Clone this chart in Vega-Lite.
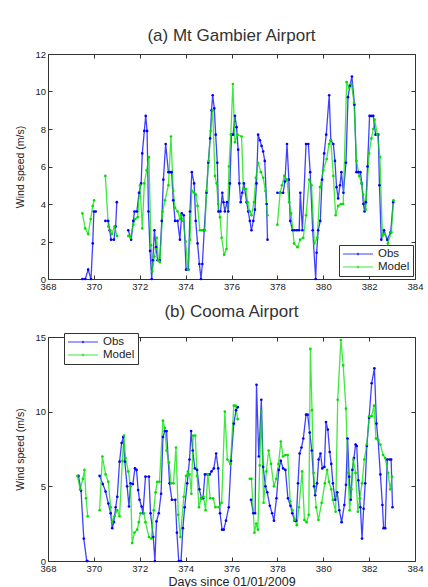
{
"$schema":"https://vega.github.io/schema/vega-lite/v6.json",
"background":"white",
"padding":{"left":15,"top":26,"right":3,"bottom":2},
"spacing":10,
"config":{
 "font":"Liberation Sans",
 "view":{"stroke":"#333","strokeWidth":1},
 "axis":{"grid":false,"domain":false,"tickColor":"#333","tickSize":-4,"labelColor":"#222","labelFontSize":9.5,"labelFlush":false,"labelPadding":6.5,"titleFontWeight":"normal","titleColor":"#222"},
 "title":{"fontSize":17,"fontWeight":"normal","color":"#333","anchor":"middle"},
 "legend":{"title":null,"orient":"none","symbolType":"M-3,0H3M-0.15,0A0.15,0.15 0 1 1 0.15,0A0.15,0.15 0 1 1 -0.15,0","symbolSize":100,"symbolStrokeWidth":1.2,"symbolOffset":10,"labelOffset":14,"labelFontSize":11.5,"labelColor":"#222","strokeColor":"#333","fillColor":"white","padding":3,"rowPadding":1}
},
"datasets":{
"a":[
{"d":369.5,"v":0,"s":"Obs"},{"d":369.625,"v":0,"s":"Obs"},{"d":369.75,"v":0.5,"s":"Obs"},{"d":369.875,"v":0,"s":"Obs"},{"d":369.95,"v":1.9,"s":"Obs"},{"d":370.0,"v":3.6,"s":"Obs"},{"d":370.08,"v":3.6,"s":"Obs"},{"d":370.25,"v":null,"s":"Obs"},
{"d":370.5,"v":3.1,"s":"Obs"},{"d":370.625,"v":3.1,"s":"Obs"},{"d":370.69,"v":2.6,"s":"Obs"},{"d":370.75,"v":2.1,"s":"Obs"},{"d":370.875,"v":2.1,"s":"Obs"},{"d":370.95,"v":2.8,"s":"Obs"},{"d":371.0,"v":4.1,"s":"Obs"},{"d":371.25,"v":null,"s":"Obs"},
{"d":371.5,"v":2.6,"s":"Obs"},{"d":371.625,"v":2.1,"s":"Obs"},{"d":371.72,"v":3.1,"s":"Obs"},{"d":371.77,"v":3.6,"s":"Obs"},{"d":371.875,"v":3.6,"s":"Obs"},{"d":371.97,"v":4.6,"s":"Obs"},{"d":372.06,"v":5.1,"s":"Obs"},{"d":372.11,"v":6.7,"s":"Obs"},{"d":372.2,"v":7.9,"s":"Obs"},{"d":372.26,"v":8.7,"s":"Obs"},{"d":372.32,"v":7.9,"s":"Obs"},{"d":372.38,"v":3.6,"s":"Obs"},{"d":372.45,"v":1.5,"s":"Obs"},{"d":372.52,"v":0,"s":"Obs"},{"d":372.57,"v":1.0,"s":"Obs"},{"d":372.64,"v":2.6,"s":"Obs"},{"d":372.71,"v":1.7,"s":"Obs"},{"d":372.78,"v":1.0,"s":"Obs"},{"d":372.87,"v":1.0,"s":"Obs"},{"d":372.96,"v":3.1,"s":"Obs"},{"d":373.03,"v":5.3,"s":"Obs"},{"d":373.13,"v":7.2,"s":"Obs"},{"d":373.25,"v":5.7,"s":"Obs"},{"d":373.32,"v":5.7,"s":"Obs"},{"d":373.39,"v":5.7,"s":"Obs"},{"d":373.46,"v":4.2,"s":"Obs"},{"d":373.54,"v":3.1,"s":"Obs"},{"d":373.65,"v":3.1,"s":"Obs"},{"d":373.75,"v":2.1,"s":"Obs"},{"d":373.83,"v":3.5,"s":"Obs"},{"d":373.92,"v":3.4,"s":"Obs"},{"d":374.02,"v":0.5,"s":"Obs"},{"d":374.12,"v":0.5,"s":"Obs"},{"d":374.19,"v":3.6,"s":"Obs"},{"d":374.27,"v":5.7,"s":"Obs"},{"d":374.37,"v":5.1,"s":"Obs"},{"d":374.44,"v":3.1,"s":"Obs"},{"d":374.52,"v":1.9,"s":"Obs"},{"d":374.6,"v":0.8,"s":"Obs"},{"d":374.67,"v":0,"s":"Obs"},{"d":374.73,"v":0.8,"s":"Obs"},{"d":374.81,"v":2.6,"s":"Obs"},{"d":374.91,"v":4.6,"s":"Obs"},{"d":374.99,"v":6.2,"s":"Obs"},{"d":375.07,"v":7.5,"s":"Obs"},{"d":375.13,"v":9.0,"s":"Obs"},{"d":375.18,"v":9.8,"s":"Obs"},{"d":375.25,"v":9.1,"s":"Obs"},{"d":375.31,"v":7.7,"s":"Obs"},{"d":375.38,"v":6.2,"s":"Obs"},{"d":375.43,"v":3.6,"s":"Obs"},{"d":375.52,"v":3.6,"s":"Obs"},{"d":375.6,"v":4.6,"s":"Obs"},{"d":375.65,"v":4.1,"s":"Obs"},{"d":375.71,"v":3.6,"s":"Obs"},{"d":375.8,"v":4.1,"s":"Obs"},{"d":375.86,"v":3.6,"s":"Obs"},{"d":375.93,"v":5.1,"s":"Obs"},{"d":376.0,"v":7.7,"s":"Obs"},{"d":376.07,"v":7.7,"s":"Obs"},{"d":376.15,"v":8.7,"s":"Obs"},{"d":376.22,"v":8.1,"s":"Obs"},{"d":376.29,"v":6.9,"s":"Obs"},{"d":376.34,"v":5.1,"s":"Obs"},{"d":376.4,"v":4.1,"s":"Obs"},{"d":376.47,"v":4.6,"s":"Obs"},{"d":376.54,"v":5.1,"s":"Obs"},{"d":376.66,"v":4.1,"s":"Obs"},{"d":376.73,"v":3.6,"s":"Obs"},{"d":376.8,"v":3.1,"s":"Obs"},{"d":376.87,"v":2.6,"s":"Obs"},{"d":376.95,"v":3.1,"s":"Obs"},{"d":377.02,"v":3.7,"s":"Obs"},{"d":377.09,"v":5.1,"s":"Obs"},{"d":377.16,"v":7.7,"s":"Obs"},{"d":377.24,"v":7.4,"s":"Obs"},{"d":377.31,"v":7.1,"s":"Obs"},{"d":377.38,"v":6.8,"s":"Obs"},{"d":377.45,"v":6.3,"s":"Obs"},{"d":377.53,"v":4.0,"s":"Obs"},{"d":377.57,"v":2.1,"s":"Obs"},{"d":377.75,"v":null,"s":"Obs"},
{"d":378.0,"v":4.6,"s":"Obs"},{"d":378.12,"v":4.6,"s":"Obs"},{"d":378.25,"v":4.6,"s":"Obs"},{"d":378.33,"v":5.2,"s":"Obs"},{"d":378.42,"v":7.2,"s":"Obs"},{"d":378.5,"v":5.3,"s":"Obs"},{"d":378.56,"v":3.1,"s":"Obs"},{"d":378.66,"v":2.6,"s":"Obs"},{"d":378.75,"v":2.6,"s":"Obs"},{"d":378.85,"v":2.6,"s":"Obs"},{"d":378.95,"v":2.6,"s":"Obs"},{"d":379.0,"v":4.6,"s":"Obs"},{"d":379.09,"v":2.6,"s":"Obs"},{"d":379.25,"v":7.2,"s":"Obs"},{"d":379.35,"v":7.2,"s":"Obs"},{"d":379.43,"v":5.7,"s":"Obs"},{"d":379.54,"v":2.6,"s":"Obs"},{"d":379.67,"v":0,"s":"Obs"},{"d":379.71,"v":1.4,"s":"Obs"},{"d":379.78,"v":2.6,"s":"Obs"},{"d":379.87,"v":3.1,"s":"Obs"},{"d":379.95,"v":5.3,"s":"Obs"},{"d":380.04,"v":6.7,"s":"Obs"},{"d":380.13,"v":7.7,"s":"Obs"},{"d":380.26,"v":9.8,"s":"Obs"},{"d":380.33,"v":7.4,"s":"Obs"},{"d":380.44,"v":7.2,"s":"Obs"},{"d":380.51,"v":6.3,"s":"Obs"},{"d":380.58,"v":4.9,"s":"Obs"},{"d":380.65,"v":4.3,"s":"Obs"},{"d":380.73,"v":5.0,"s":"Obs"},{"d":380.79,"v":5.7,"s":"Obs"},{"d":380.88,"v":4.6,"s":"Obs"},{"d":380.99,"v":6.2,"s":"Obs"},{"d":381.08,"v":9.7,"s":"Obs"},{"d":381.16,"v":10.3,"s":"Obs"},{"d":381.25,"v":10.8,"s":"Obs"},{"d":381.36,"v":9.3,"s":"Obs"},{"d":381.45,"v":5.7,"s":"Obs"},{"d":381.53,"v":5.7,"s":"Obs"},{"d":381.62,"v":5.7,"s":"Obs"},{"d":381.68,"v":5.1,"s":"Obs"},{"d":381.75,"v":4.0,"s":"Obs"},{"d":381.8,"v":3.6,"s":"Obs"},{"d":381.86,"v":4.1,"s":"Obs"},{"d":381.93,"v":6.0,"s":"Obs"},{"d":382.02,"v":8.7,"s":"Obs"},{"d":382.1,"v":8.7,"s":"Obs"},{"d":382.18,"v":8.7,"s":"Obs"},{"d":382.28,"v":7.7,"s":"Obs"},{"d":382.4,"v":7.7,"s":"Obs"},{"d":382.45,"v":5.0,"s":"Obs"},{"d":382.53,"v":2.1,"s":"Obs"},{"d":382.65,"v":2.6,"s":"Obs"},{"d":382.79,"v":2.1,"s":"Obs"},{"d":382.94,"v":2.5,"s":"Obs"},{"d":383.05,"v":4.1,"s":"Obs"},
{"d":369.5,"v":3.5,"s":"Model"},{"d":369.62,"v":2.7,"s":"Model"},{"d":369.75,"v":2.4,"s":"Model"},{"d":369.86,"v":3.2,"s":"Model"},{"d":369.95,"v":3.9,"s":"Model"},{"d":370.01,"v":4.2,"s":"Model"},{"d":370.25,"v":null,"s":"Model"},
{"d":370.5,"v":5.5,"s":"Model"},{"d":370.63,"v":2.8,"s":"Model"},{"d":370.72,"v":2.6,"s":"Model"},{"d":370.78,"v":2.4,"s":"Model"},{"d":370.9,"v":2.8,"s":"Model"},{"d":371.01,"v":2.3,"s":"Model"},{"d":371.25,"v":null,"s":"Model"},
{"d":371.5,"v":2.3,"s":"Model"},{"d":371.6,"v":2.2,"s":"Model"},{"d":371.72,"v":2.9,"s":"Model"},{"d":371.8,"v":3.2,"s":"Model"},{"d":371.91,"v":3.3,"s":"Model"},{"d":372.01,"v":5.0,"s":"Model"},{"d":372.11,"v":2.7,"s":"Model"},{"d":372.2,"v":5.1,"s":"Model"},{"d":372.3,"v":5.8,"s":"Model"},{"d":372.4,"v":6.5,"s":"Model"},{"d":372.49,"v":1.8,"s":"Model"},{"d":372.55,"v":0.4,"s":"Model"},{"d":372.64,"v":1.2,"s":"Model"},{"d":372.7,"v":1.6,"s":"Model"},{"d":372.74,"v":2.2,"s":"Model"},{"d":372.81,"v":1.0,"s":"Model"},{"d":372.88,"v":0.9,"s":"Model"},{"d":373.0,"v":3.6,"s":"Model"},{"d":373.1,"v":4.2,"s":"Model"},{"d":373.25,"v":5.0,"s":"Model"},{"d":373.36,"v":7.6,"s":"Model"},{"d":373.46,"v":4.7,"s":"Model"},{"d":373.54,"v":3.8,"s":"Model"},{"d":373.65,"v":3.6,"s":"Model"},{"d":373.75,"v":3.2,"s":"Model"},{"d":373.8,"v":3.4,"s":"Model"},{"d":373.9,"v":3.1,"s":"Model"},{"d":374.0,"v":2.0,"s":"Model"},{"d":374.1,"v":0.5,"s":"Model"},{"d":374.19,"v":2.1,"s":"Model"},{"d":374.27,"v":4.7,"s":"Model"},{"d":374.37,"v":4.6,"s":"Model"},{"d":374.45,"v":4.5,"s":"Model"},{"d":374.52,"v":3.9,"s":"Model"},{"d":374.62,"v":2.6,"s":"Model"},{"d":374.72,"v":2.6,"s":"Model"},{"d":374.84,"v":2.6,"s":"Model"},{"d":374.91,"v":4.7,"s":"Model"},{"d":375.0,"v":6.3,"s":"Model"},{"d":375.09,"v":7.9,"s":"Model"},{"d":375.18,"v":9.0,"s":"Model"},{"d":375.28,"v":5.5,"s":"Model"},{"d":375.35,"v":5.1,"s":"Model"},{"d":375.42,"v":4.0,"s":"Model"},{"d":375.5,"v":3.3,"s":"Model"},{"d":375.57,"v":2.2,"s":"Model"},{"d":375.68,"v":1.3,"s":"Model"},{"d":375.78,"v":1.6,"s":"Model"},{"d":375.89,"v":6.0,"s":"Model"},{"d":375.97,"v":7.7,"s":"Model"},{"d":376.06,"v":10.4,"s":"Model"},{"d":376.15,"v":7.3,"s":"Model"},{"d":376.26,"v":7.7,"s":"Model"},{"d":376.44,"v":7.6,"s":"Model"},{"d":376.52,"v":4.8,"s":"Model"},{"d":376.63,"v":4.8,"s":"Model"},{"d":376.7,"v":4.1,"s":"Model"},{"d":376.8,"v":3.6,"s":"Model"},{"d":376.87,"v":3.4,"s":"Model"},{"d":376.98,"v":4.1,"s":"Model"},{"d":377.06,"v":5.4,"s":"Model"},{"d":377.16,"v":6.2,"s":"Model"},{"d":377.28,"v":5.7,"s":"Model"},{"d":377.38,"v":5.4,"s":"Model"},{"d":377.48,"v":4.7,"s":"Model"},{"d":377.57,"v":3.4,"s":"Model"},{"d":377.75,"v":null,"s":"Model"},
{"d":378.0,"v":2.9,"s":"Model"},{"d":378.12,"v":4.6,"s":"Model"},{"d":378.2,"v":5.0,"s":"Model"},{"d":378.3,"v":5.5,"s":"Model"},{"d":378.42,"v":5.3,"s":"Model"},{"d":378.51,"v":4.1,"s":"Model"},{"d":378.6,"v":3.5,"s":"Model"},{"d":378.73,"v":1.9,"s":"Model"},{"d":378.88,"v":1.7,"s":"Model"},{"d":378.99,"v":2.1,"s":"Model"},{"d":379.13,"v":2.2,"s":"Model"},{"d":379.25,"v":3.4,"s":"Model"},{"d":379.39,"v":5.3,"s":"Model"},{"d":379.49,"v":5.0,"s":"Model"},{"d":379.61,"v":1.9,"s":"Model"},{"d":379.74,"v":2.2,"s":"Model"},{"d":379.86,"v":4.9,"s":"Model"},{"d":380.0,"v":5.8,"s":"Model"},{"d":380.15,"v":6.4,"s":"Model"},{"d":380.25,"v":7.2,"s":"Model"},{"d":380.33,"v":7.4,"s":"Model"},{"d":380.44,"v":5.5,"s":"Model"},{"d":380.54,"v":3.4,"s":"Model"},{"d":380.65,"v":3.9,"s":"Model"},{"d":380.77,"v":4.0,"s":"Model"},{"d":380.87,"v":4.0,"s":"Model"},{"d":381.02,"v":10.5,"s":"Model"},{"d":381.13,"v":10.2,"s":"Model"},{"d":381.23,"v":10.4,"s":"Model"},{"d":381.34,"v":9.4,"s":"Model"},{"d":381.45,"v":6.3,"s":"Model"},{"d":381.57,"v":5.5,"s":"Model"},{"d":381.67,"v":5.1,"s":"Model"},{"d":381.74,"v":4.5,"s":"Model"},{"d":381.85,"v":3.7,"s":"Model"},{"d":382.0,"v":6.7,"s":"Model"},{"d":382.1,"v":7.5,"s":"Model"},{"d":382.18,"v":8.0,"s":"Model"},{"d":382.24,"v":8.5,"s":"Model"},{"d":382.36,"v":7.7,"s":"Model"},{"d":382.47,"v":6.5,"s":"Model"},{"d":382.58,"v":2.3,"s":"Model"},{"d":382.69,"v":2.4,"s":"Model"},{"d":382.82,"v":1.9,"s":"Model"},{"d":382.97,"v":2.5,"s":"Model"},{"d":383.06,"v":4.2,"s":"Model"}
],
"b":[
{"d":369.33,"v":5.7,"s":"Obs"},{"d":369.44,"v":4.7,"s":"Obs"},{"d":369.56,"v":1.5,"s":"Obs"},{"d":369.69,"v":0,"s":"Obs"},{"d":369.72,"v":0,"s":"Obs"},{"d":369.9,"v":null,"s":"Obs"},
{"d":370.25,"v":5.7,"s":"Obs"},{"d":370.39,"v":5.15,"s":"Obs"},{"d":370.51,"v":4.65,"s":"Obs"},{"d":370.63,"v":3.85,"s":"Obs"},{"d":370.73,"v":3.2,"s":"Obs"},{"d":370.8,"v":2.2,"s":"Obs"},{"d":370.87,"v":2.6,"s":"Obs"},{"d":370.95,"v":3.6,"s":"Obs"},{"d":371.02,"v":4.3,"s":"Obs"},{"d":371.12,"v":6.65,"s":"Obs"},{"d":371.21,"v":7.9,"s":"Obs"},{"d":371.28,"v":8.3,"s":"Obs"},{"d":371.35,"v":6.65,"s":"Obs"},{"d":371.45,"v":5.0,"s":"Obs"},{"d":371.53,"v":3.65,"s":"Obs"},{"d":371.6,"v":5.2,"s":"Obs"},{"d":371.7,"v":5.15,"s":"Obs"},{"d":371.79,"v":6.2,"s":"Obs"},{"d":371.86,"v":6.1,"s":"Obs"},{"d":371.93,"v":4.75,"s":"Obs"},{"d":371.99,"v":4.1,"s":"Obs"},{"d":372.08,"v":3.65,"s":"Obs"},{"d":372.14,"v":3.2,"s":"Obs"},{"d":372.25,"v":5.65,"s":"Obs"},{"d":372.4,"v":5.65,"s":"Obs"},{"d":372.47,"v":3.2,"s":"Obs"},{"d":372.59,"v":1.6,"s":"Obs"},{"d":372.66,"v":0,"s":"Obs"},{"d":372.73,"v":2.65,"s":"Obs"},{"d":372.83,"v":3.2,"s":"Obs"},{"d":372.93,"v":4.5,"s":"Obs"},{"d":373.01,"v":8.3,"s":"Obs"},{"d":373.09,"v":8.7,"s":"Obs"},{"d":373.17,"v":8.7,"s":"Obs"},{"d":373.3,"v":5.2,"s":"Obs"},{"d":373.4,"v":4.1,"s":"Obs"},{"d":373.55,"v":4.1,"s":"Obs"},{"d":373.62,"v":1.9,"s":"Obs"},{"d":373.7,"v":0,"s":"Obs"},{"d":373.8,"v":0,"s":"Obs"},{"d":373.88,"v":2.2,"s":"Obs"},{"d":373.96,"v":3.6,"s":"Obs"},{"d":374.07,"v":5.2,"s":"Obs"},{"d":374.17,"v":6.8,"s":"Obs"},{"d":374.24,"v":8.7,"s":"Obs"},{"d":374.31,"v":7.4,"s":"Obs"},{"d":374.4,"v":6.2,"s":"Obs"},{"d":374.5,"v":6.1,"s":"Obs"},{"d":374.6,"v":4.8,"s":"Obs"},{"d":374.69,"v":4.2,"s":"Obs"},{"d":374.76,"v":4.2,"s":"Obs"},{"d":374.84,"v":5.8,"s":"Obs"},{"d":374.95,"v":5.8,"s":"Obs"},{"d":375.05,"v":5.8,"s":"Obs"},{"d":375.13,"v":6.0,"s":"Obs"},{"d":375.23,"v":6.2,"s":"Obs"},{"d":375.33,"v":7.2,"s":"Obs"},{"d":375.42,"v":6.2,"s":"Obs"},{"d":375.5,"v":3.2,"s":"Obs"},{"d":375.59,"v":2.1,"s":"Obs"},{"d":375.66,"v":2.1,"s":"Obs"},{"d":375.76,"v":2.7,"s":"Obs"},{"d":375.88,"v":3.6,"s":"Obs"},{"d":375.98,"v":6.7,"s":"Obs"},{"d":376.1,"v":9.2,"s":"Obs"},{"d":376.2,"v":10.1,"s":"Obs"},{"d":376.27,"v":10.3,"s":"Obs"},{"d":376.5,"v":null,"s":"Obs"},
{"d":376.85,"v":4.1,"s":"Obs"},{"d":376.95,"v":3.2,"s":"Obs"},{"d":377.03,"v":3.2,"s":"Obs"},{"d":377.09,"v":11.8,"s":"Obs"},{"d":377.19,"v":7.0,"s":"Obs"},{"d":377.3,"v":10.8,"s":"Obs"},{"d":377.38,"v":6.3,"s":"Obs"},{"d":377.48,"v":5.0,"s":"Obs"},{"d":377.56,"v":4.6,"s":"Obs"},{"d":377.67,"v":3.7,"s":"Obs"},{"d":377.77,"v":3.2,"s":"Obs"},{"d":377.85,"v":2.7,"s":"Obs"},{"d":377.96,"v":4.2,"s":"Obs"},{"d":378.06,"v":6.1,"s":"Obs"},{"d":378.15,"v":6.7,"s":"Obs"},{"d":378.25,"v":6.2,"s":"Obs"},{"d":378.35,"v":6.1,"s":"Obs"},{"d":378.46,"v":4.2,"s":"Obs"},{"d":378.57,"v":3.7,"s":"Obs"},{"d":378.65,"v":3.2,"s":"Obs"},{"d":378.75,"v":2.7,"s":"Obs"},{"d":378.82,"v":2.7,"s":"Obs"},{"d":378.9,"v":5.2,"s":"Obs"},{"d":378.97,"v":7.2,"s":"Obs"},{"d":379.05,"v":7.6,"s":"Obs"},{"d":379.13,"v":8.2,"s":"Obs"},{"d":379.25,"v":9.8,"s":"Obs"},{"d":379.32,"v":9.8,"s":"Obs"},{"d":379.41,"v":8.6,"s":"Obs"},{"d":379.5,"v":7.4,"s":"Obs"},{"d":379.6,"v":5.0,"s":"Obs"},{"d":379.65,"v":4.4,"s":"Obs"},{"d":379.73,"v":5.2,"s":"Obs"},{"d":379.8,"v":6.8,"s":"Obs"},{"d":379.88,"v":7.2,"s":"Obs"},{"d":379.96,"v":6.2,"s":"Obs"},{"d":380.05,"v":6.3,"s":"Obs"},{"d":380.12,"v":9.3,"s":"Obs"},{"d":380.2,"v":8.8,"s":"Obs"},{"d":380.28,"v":7.3,"s":"Obs"},{"d":380.35,"v":6.5,"s":"Obs"},{"d":380.42,"v":5.2,"s":"Obs"},{"d":380.52,"v":4.1,"s":"Obs"},{"d":380.61,"v":4.6,"s":"Obs"},{"d":380.7,"v":3.4,"s":"Obs"},{"d":380.8,"v":2.6,"s":"Obs"},{"d":380.92,"v":3.75,"s":"Obs"},{"d":380.99,"v":5.1,"s":"Obs"},{"d":381.06,"v":8.2,"s":"Obs"},{"d":381.13,"v":5.65,"s":"Obs"},{"d":381.2,"v":4.1,"s":"Obs"},{"d":381.27,"v":6.1,"s":"Obs"},{"d":381.34,"v":6.9,"s":"Obs"},{"d":381.41,"v":7.8,"s":"Obs"},{"d":381.46,"v":7.7,"s":"Obs"},{"d":381.53,"v":5.4,"s":"Obs"},{"d":381.62,"v":3.6,"s":"Obs"},{"d":381.69,"v":1.5,"s":"Obs"},{"d":381.76,"v":3.5,"s":"Obs"},{"d":381.83,"v":5.2,"s":"Obs"},{"d":381.9,"v":7.7,"s":"Obs"},{"d":382.0,"v":9.6,"s":"Obs"},{"d":382.11,"v":11.9,"s":"Obs"},{"d":382.23,"v":12.9,"s":"Obs"},{"d":382.32,"v":9.2,"s":"Obs"},{"d":382.39,"v":8.1,"s":"Obs"},{"d":382.49,"v":5.8,"s":"Obs"},{"d":382.58,"v":3.75,"s":"Obs"},{"d":382.63,"v":2.2,"s":"Obs"},{"d":382.7,"v":2.2,"s":"Obs"},{"d":382.79,"v":6.8,"s":"Obs"},{"d":382.89,"v":6.8,"s":"Obs"},{"d":382.96,"v":6.8,"s":"Obs"},{"d":383.02,"v":3.6,"s":"Obs"},
{"d":369.28,"v":5.7,"s":"Model"},{"d":369.4,"v":4.8,"s":"Model"},{"d":369.52,"v":5.5,"s":"Model"},{"d":369.59,"v":6.1,"s":"Model"},{"d":369.66,"v":4.2,"s":"Model"},{"d":369.73,"v":3.0,"s":"Model"},{"d":369.9,"v":null,"s":"Model"},
{"d":370.25,"v":3.4,"s":"Model"},{"d":370.37,"v":7.0,"s":"Model"},{"d":370.51,"v":5.8,"s":"Model"},{"d":370.63,"v":5.3,"s":"Model"},{"d":370.73,"v":3.6,"s":"Model"},{"d":370.8,"v":2.6,"s":"Model"},{"d":370.9,"v":3.0,"s":"Model"},{"d":371.02,"v":3.4,"s":"Model"},{"d":371.12,"v":3.0,"s":"Model"},{"d":371.24,"v":6.7,"s":"Model"},{"d":371.31,"v":8.4,"s":"Model"},{"d":371.38,"v":6.9,"s":"Model"},{"d":371.5,"v":6.0,"s":"Model"},{"d":371.6,"v":5.0,"s":"Model"},{"d":371.67,"v":1.2,"s":"Model"},{"d":371.77,"v":1.9,"s":"Model"},{"d":371.89,"v":2.1,"s":"Model"},{"d":371.96,"v":2.6,"s":"Model"},{"d":372.03,"v":3.2,"s":"Model"},{"d":372.18,"v":3.2,"s":"Model"},{"d":372.25,"v":2.6,"s":"Model"},{"d":372.4,"v":1.6,"s":"Model"},{"d":372.51,"v":1.5,"s":"Model"},{"d":372.61,"v":3.4,"s":"Model"},{"d":372.69,"v":4.6,"s":"Model"},{"d":372.76,"v":5.3,"s":"Model"},{"d":372.86,"v":5.3,"s":"Model"},{"d":373.01,"v":9.4,"s":"Model"},{"d":373.09,"v":8.9,"s":"Model"},{"d":373.17,"v":7.4,"s":"Model"},{"d":373.27,"v":6.6,"s":"Model"},{"d":373.37,"v":5.2,"s":"Model"},{"d":373.47,"v":5.2,"s":"Model"},{"d":373.58,"v":7.6,"s":"Model"},{"d":373.68,"v":3.1,"s":"Model"},{"d":373.77,"v":1.6,"s":"Model"},{"d":373.92,"v":4.3,"s":"Model"},{"d":374.02,"v":5.7,"s":"Model"},{"d":374.1,"v":6.0,"s":"Model"},{"d":374.17,"v":5.8,"s":"Model"},{"d":374.25,"v":4.5,"s":"Model"},{"d":374.33,"v":8.4,"s":"Model"},{"d":374.42,"v":8.4,"s":"Model"},{"d":374.5,"v":5.7,"s":"Model"},{"d":374.58,"v":3.6,"s":"Model"},{"d":374.68,"v":4.2,"s":"Model"},{"d":374.78,"v":4.3,"s":"Model"},{"d":374.87,"v":3.4,"s":"Model"},{"d":374.97,"v":5.8,"s":"Model"},{"d":375.07,"v":4.2,"s":"Model"},{"d":375.2,"v":4.2,"s":"Model"},{"d":375.3,"v":3.6,"s":"Model"},{"d":375.45,"v":3.6,"s":"Model"},{"d":375.57,"v":3.9,"s":"Model"},{"d":375.71,"v":10.0,"s":"Model"},{"d":375.82,"v":6.8,"s":"Model"},{"d":375.95,"v":6.5,"s":"Model"},{"d":376.1,"v":10.4,"s":"Model"},{"d":376.18,"v":10.4,"s":"Model"},{"d":376.27,"v":9.5,"s":"Model"},{"d":376.5,"v":null,"s":"Model"},
{"d":376.8,"v":5.5,"s":"Model"},{"d":376.87,"v":5.5,"s":"Model"},{"d":377.0,"v":1.9,"s":"Model"},{"d":377.08,"v":2.5,"s":"Model"},{"d":377.15,"v":2.1,"s":"Model"},{"d":377.23,"v":6.4,"s":"Model"},{"d":377.3,"v":10.0,"s":"Model"},{"d":377.4,"v":3.9,"s":"Model"},{"d":377.52,"v":6.0,"s":"Model"},{"d":377.62,"v":7.4,"s":"Model"},{"d":377.72,"v":6.5,"s":"Model"},{"d":377.85,"v":5.0,"s":"Model"},{"d":377.95,"v":5.5,"s":"Model"},{"d":378.05,"v":6.5,"s":"Model"},{"d":378.15,"v":8.0,"s":"Model"},{"d":378.25,"v":7.0,"s":"Model"},{"d":378.35,"v":7.1,"s":"Model"},{"d":378.45,"v":7.1,"s":"Model"},{"d":378.56,"v":4.0,"s":"Model"},{"d":378.66,"v":3.4,"s":"Model"},{"d":378.76,"v":2.75,"s":"Model"},{"d":378.85,"v":2.4,"s":"Model"},{"d":378.94,"v":3.6,"s":"Model"},{"d":379.08,"v":6.0,"s":"Model"},{"d":379.18,"v":2.75,"s":"Model"},{"d":379.27,"v":2.6,"s":"Model"},{"d":379.37,"v":3.1,"s":"Model"},{"d":379.44,"v":14.2,"s":"Model"},{"d":379.51,"v":10.1,"s":"Model"},{"d":379.58,"v":5.9,"s":"Model"},{"d":379.69,"v":3.6,"s":"Model"},{"d":379.79,"v":2.75,"s":"Model"},{"d":379.93,"v":3.9,"s":"Model"},{"d":380.07,"v":5.2,"s":"Model"},{"d":380.17,"v":6.1,"s":"Model"},{"d":380.25,"v":5.3,"s":"Model"},{"d":380.35,"v":4.8,"s":"Model"},{"d":380.42,"v":4.1,"s":"Model"},{"d":380.54,"v":3.3,"s":"Model"},{"d":380.63,"v":10.8,"s":"Model"},{"d":380.77,"v":14.8,"s":"Model"},{"d":380.87,"v":13.1,"s":"Model"},{"d":380.99,"v":10.2,"s":"Model"},{"d":381.08,"v":5.9,"s":"Model"},{"d":381.15,"v":3.4,"s":"Model"},{"d":381.23,"v":4.8,"s":"Model"},{"d":381.31,"v":6.8,"s":"Model"},{"d":381.41,"v":5.9,"s":"Model"},{"d":381.51,"v":3.3,"s":"Model"},{"d":381.59,"v":4.2,"s":"Model"},{"d":381.69,"v":5.2,"s":"Model"},{"d":381.79,"v":6.8,"s":"Model"},{"d":381.9,"v":7.8,"s":"Model"},{"d":382.0,"v":9.7,"s":"Model"},{"d":382.11,"v":9.7,"s":"Model"},{"d":382.21,"v":10.4,"s":"Model"},{"d":382.3,"v":8.2,"s":"Model"},{"d":382.39,"v":8.1,"s":"Model"},{"d":382.49,"v":7.8,"s":"Model"},{"d":382.61,"v":7.1,"s":"Model"},{"d":382.7,"v":6.9,"s":"Model"},{"d":382.82,"v":5.9,"s":"Model"},{"d":382.92,"v":4.8,"s":"Model"},{"d":383.0,"v":5.65,"s":"Model"}
]
},
"vconcat":[
{
 "title":{"text":"(a) Mt Gambier Airport","offset":4},
 "width":367,"height":225,
 "data":{"name":"a"},
 "layer":[
  {"mark":{"type":"line","strokeWidth":1.3,"opacity":0.75,"invalid":"break-paths-filter-domains"},
   "encoding":{
    "x":{"field":"d","type":"quantitative","scale":{"domain":[368,384],"nice":false,"zero":false},"axis":{"orient":"bottom","values":[368,370,372,374,376,378,380,382,384],"format":"d","title":null}},
    "y":{"field":"v","type":"quantitative","scale":{"domain":[0,12],"nice":false},"axis":{"orient":"left","values":[0,2,4,6,8,10,12],"title":"Wind speed (m/s)","titleFontSize":10.5,"titlePadding":9}},
    "color":{"field":"s","type":"nominal","scale":{"domain":["Obs","Model"],"range":["#0000ff","#00e000"]},"legend":{"legendX":291,"legendY":191}}
   }},
  {"mark":{"type":"point","filled":true,"size":7,"opacity":1},
   "encoding":{
    "x":{"field":"d","type":"quantitative","axis":{"orient":"top","values":[368,370,372,374,376,378,380,382,384],"labels":false,"title":null}},
    "y":{"field":"v","type":"quantitative","axis":{"orient":"right","values":[0,2,4,6,8,10,12],"labels":false,"title":null}},
    "color":{"field":"s","type":"nominal","legend":{"legendX":291,"legendY":191}}
   }}
 ],
 "resolve":{"axis":{"x":"independent","y":"independent"}}
},
{
 "title":{"text":"(b) Cooma Airport","offset":11},
 "width":367,"height":224,
 "data":{"name":"b"},
 "layer":[
  {"mark":{"type":"line","strokeWidth":1.3,"opacity":0.75,"invalid":"break-paths-filter-domains"},
   "encoding":{
    "x":{"field":"d","type":"quantitative","scale":{"domain":[368,384],"nice":false,"zero":false},"axis":{"orient":"bottom","values":[368,370,372,374,376,378,380,382,384],"format":"d","title":"Days since 01/01/2009","titleFontSize":12.5,"titlePadding":2}},
    "y":{"field":"v","type":"quantitative","scale":{"domain":[0,15],"nice":false},"axis":{"orient":"left","values":[0,5,10,15],"title":"Wind speed (m/s)","titleFontSize":10.5,"titlePadding":9}},
    "color":{"field":"s","type":"nominal","scale":{"domain":["Obs","Model"],"range":["#0000ff","#00e000"]},"legend":{"legendX":16,"legendY":-4}}
   }},
  {"mark":{"type":"point","filled":true,"size":7,"opacity":1},
   "encoding":{
    "x":{"field":"d","type":"quantitative","axis":{"orient":"top","values":[368,370,372,374,376,378,380,382,384],"labels":false,"title":null}},
    "y":{"field":"v","type":"quantitative","axis":{"orient":"right","values":[0,5,10,15],"labels":false,"title":null}},
    "color":{"field":"s","type":"nominal","legend":{"legendX":16,"legendY":-4}}
   }}
 ],
 "resolve":{"axis":{"x":"independent","y":"independent"}}
}
],
"resolve":{"scale":{"color":"independent"},"legend":{"color":"independent"}}
}
